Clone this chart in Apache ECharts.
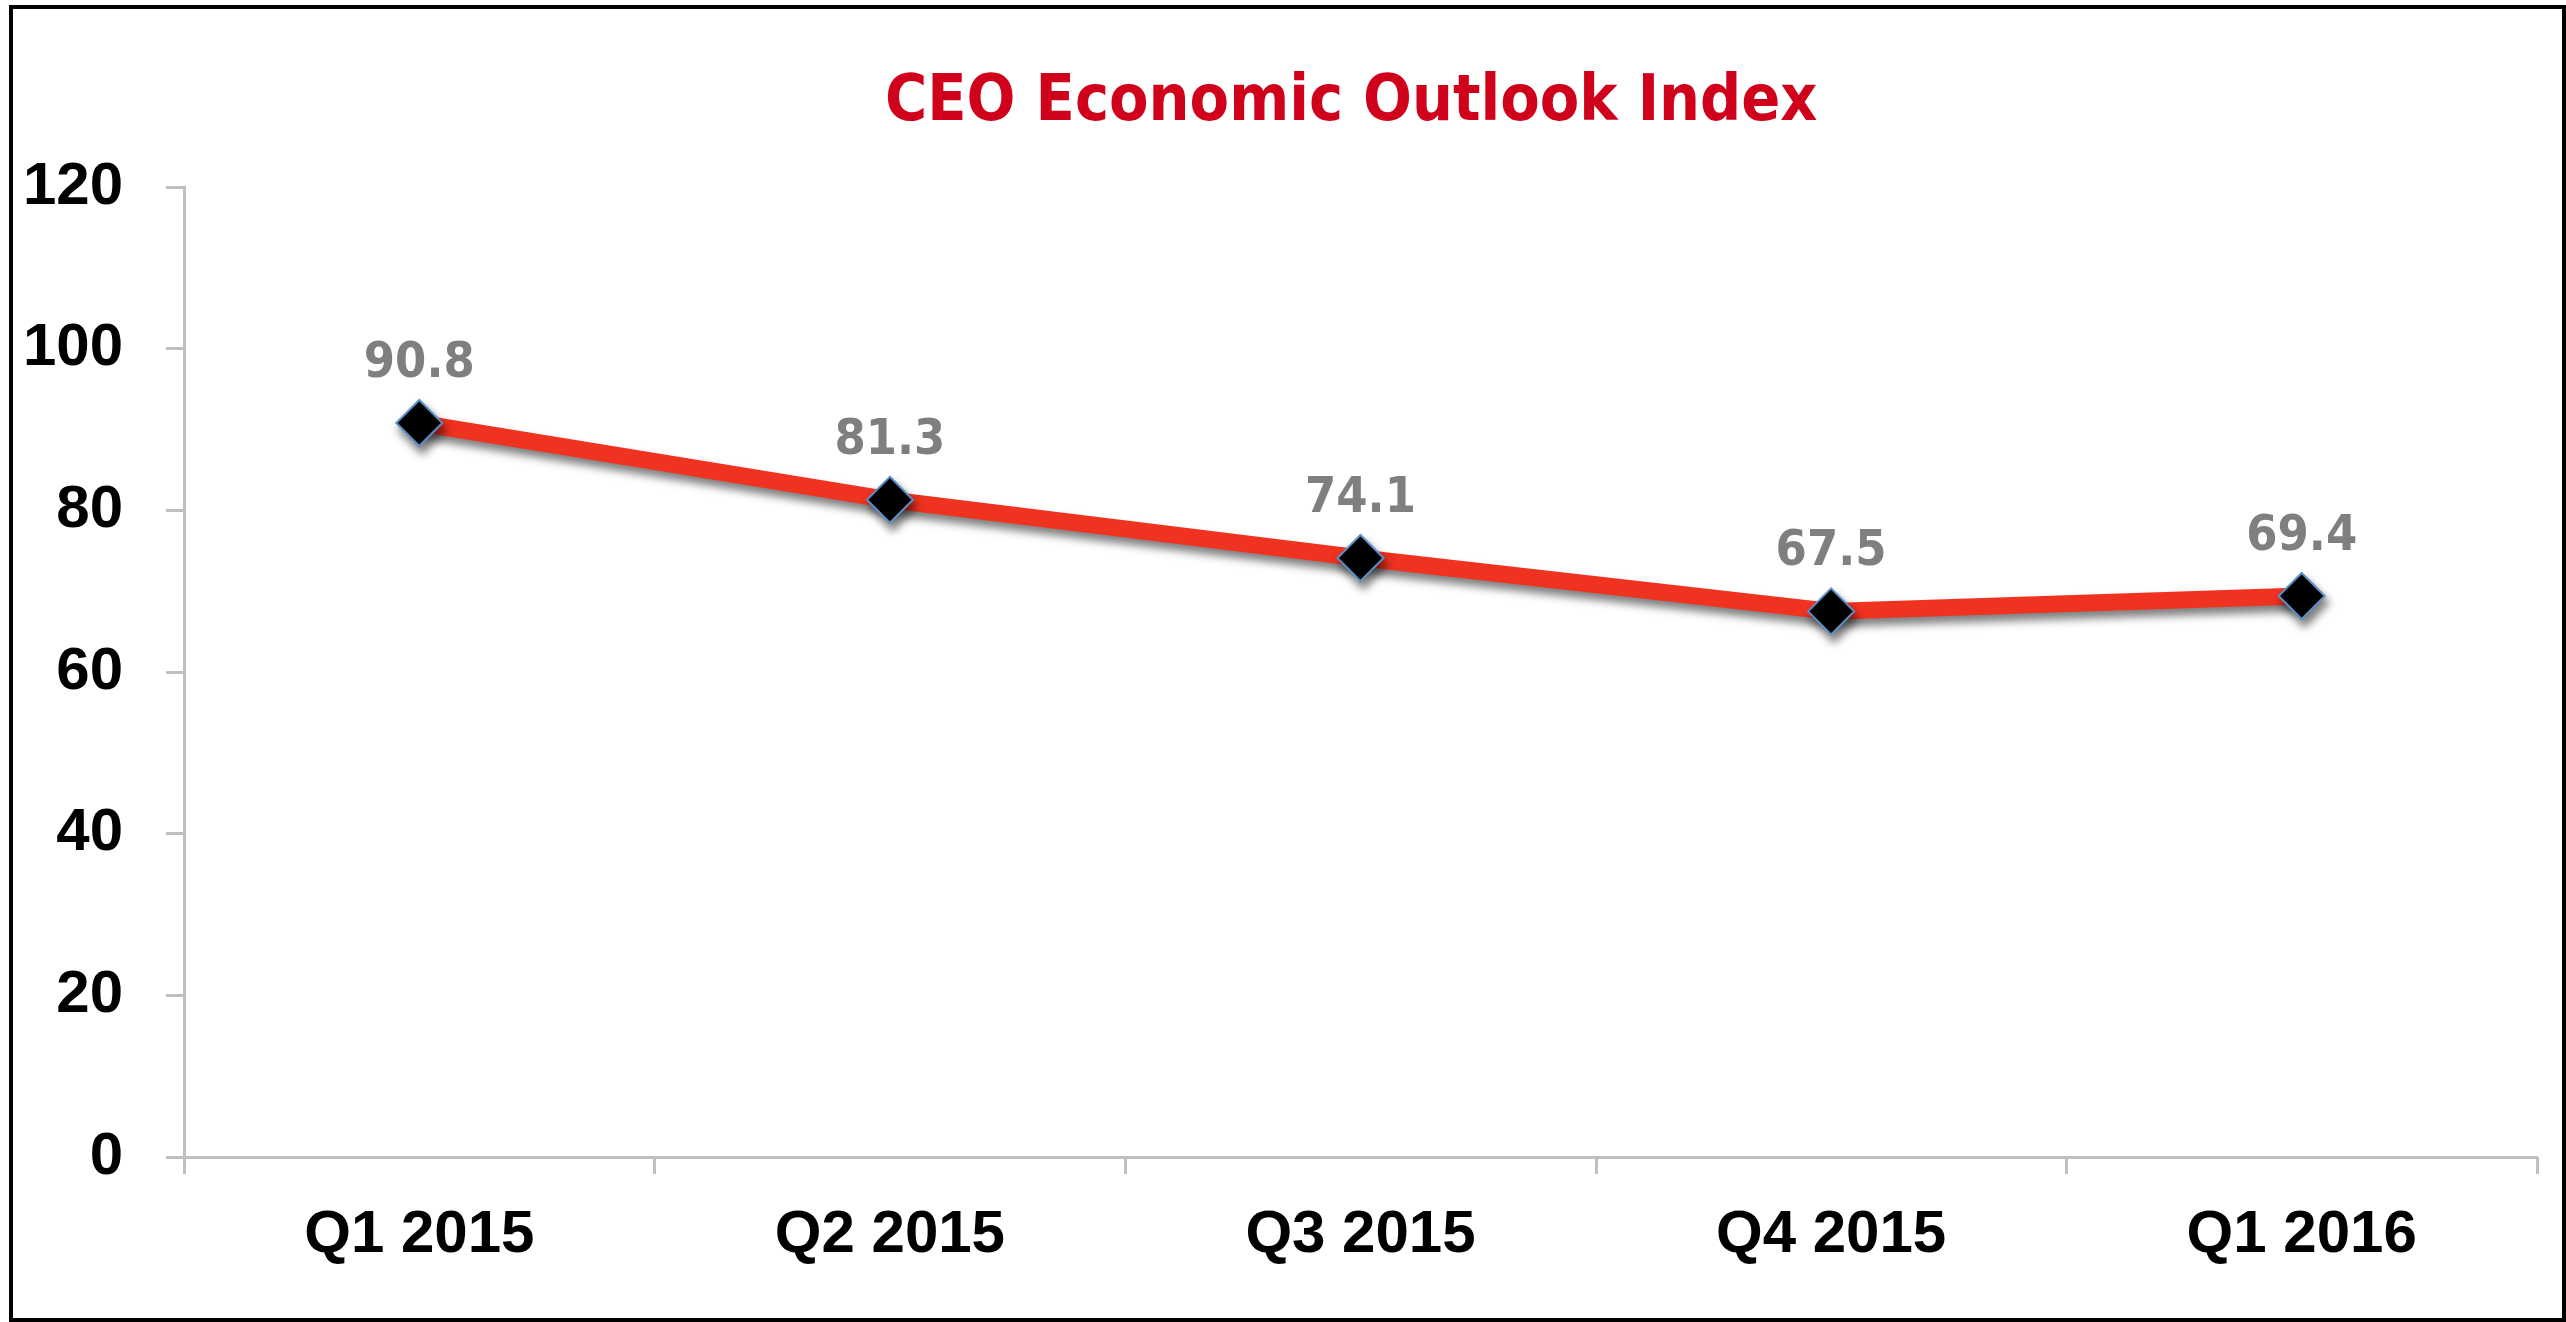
<!DOCTYPE html>
<html>
<head>
<meta charset="utf-8">
<title>CEO Economic Outlook Index</title>
<script src="https://cdn.jsdelivr.net/npm/echarts@6/dist/echarts.min.js"></script>
<style>
  html, body { margin: 0; padding: 0; background: #fff; }
  #chart { position: absolute; left: 0; top: 0; width: 2566px; height: 1322px; }
  #frame {
    position: absolute; left: 9px; top: 5px; width: 2557px; height: 1317px;
    box-sizing: border-box; border: 4px solid #000; pointer-events: none;
  }
</style>
</head>
<body>
<div id="chart"></div>
<div id="frame"></div>
<script>
// data
const quarters = ['Q1 2015', 'Q2 2015', 'Q3 2015', 'Q4 2015', 'Q1 2016'];
const outlookIndex = [90.8, 81.3, 74.1, 67.5, 69.4];
const yTicks = [0, 20, 40, 60, 80, 100, 120];

const chart = echarts.init(document.getElementById('chart'));

chart.setOption({
  backgroundColor: '#fff',
  animation: false,
  title: {
    text: 'CEO Economic Outlook Index',
    left: 880,
    top: 66,
    textStyle: {
      color: '#D0021B',
      fontFamily: 'DejaVu Sans Condensed',
      fontWeight: 'bold',
      fontSize: 64
    }
  },
  grid: { left: 184, right: 29, top: 187, bottom: 165 },
  xAxis: {
    type: 'category',
    data: quarters,
    boundaryGap: true,
    axisLine: { lineStyle: { color: '#BFBFBF', width: 3 } },
    axisTick: { show: true, length: 17, lineStyle: { color: '#BFBFBF', width: 3 } },
    axisLabel: {
      margin: 48,
      color: '#000',
      fontFamily: 'Liberation Sans',
      fontWeight: 'bold',
      fontSize: 60
    },
    splitLine: { show: false }
  },
  yAxis: {
    type: 'value',
    min: yTicks[0],
    max: yTicks[yTicks.length - 1],
    interval: yTicks[1] - yTicks[0],
    axisLine: { show: true, lineStyle: { color: '#BFBFBF', width: 3 } },
    axisTick: { show: true, length: 18, lineStyle: { color: '#BFBFBF', width: 3 } },
    axisLabel: {
      margin: 61,
      color: '#000',
      fontFamily: 'Liberation Sans',
      fontWeight: 'bold',
      fontSize: 60
    },
    splitLine: { show: false }
  },
  series: [{
    type: 'line',
    data: outlookIndex,
    symbol: 'diamond',
    symbolSize: 46,
    lineStyle: {
      color: '#F03220',
      width: 17,
      shadowColor: 'rgba(0,0,0,0.5)',
      shadowBlur: 9,
      shadowOffsetX: 3,
      shadowOffsetY: 7
    },
    itemStyle: {
      color: '#000',
      borderColor: '#5B8FC9',
      borderWidth: 2,
      shadowColor: 'rgba(0,0,0,0.5)',
      shadowBlur: 9,
      shadowOffsetX: 3,
      shadowOffsetY: 7
    },
    label: {
      show: true,
      position: 'top',
      distance: 10,
      color: '#7F7F7F',
      fontFamily: 'DejaVu Sans Condensed',
      fontWeight: 'bold',
      fontSize: 50,
      formatter: p => p.value.toFixed(1)
    }
  }]
});
</script>
</body>
</html>
